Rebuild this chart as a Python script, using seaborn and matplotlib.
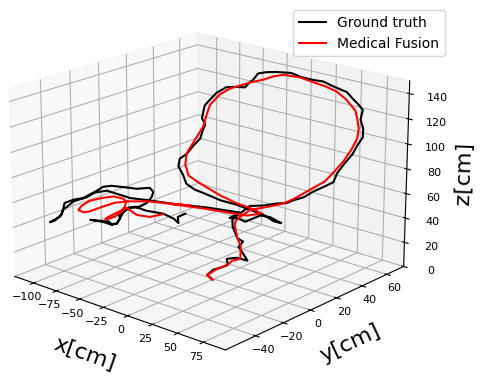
import matplotlib
matplotlib.use("Agg")
import seaborn as sns
from matplotlib import pyplot as plt

# ground truth track
truth_x = [8,-1,2,7,9,5,11,18,9,2,4,-6,-15,-18,-13,-7,6,18,27,32,41,49,59,65,67,73,79,82,86,85,81,83,80,75,70,57,47,39,27,18,3,-7,-14,-19,-21,-26,-35,-44,-53,-60,-64,-67,-62,-65,-66,-73,-79,-87,-87,-82,-77,-68,-57,-39,-20,-7,8,19,28,18,8,-6,-14,-21,-10,-43,-76,-107,-111,-122,-120,-113,-112,-108,-95,-90,-86,-80,-80,-80,-72,-63,-52,-45,-38,-20,-15,-3,-1,-4,-11,-21,-31,-40,-46,-46,-51,-58,-63,-70,-86,-75,-68,-65,-63,-60,-53,-44,-28,-20,-18,-20,-15]
truth_y = [-7,-4,-2,1,4,6,9,12,14,17,19,22,25,27,30,32,33,34,35,36,37,38,39,41,42,43,44,45,46,47,48,48,47,47,46,46,46,45,45,44,44,44,43,43,42,42,41,41,40,40,39,39,38,38,37,37,36,36,35,35,34,34,33,33,32,32,31,31,30,29,29,28,28,27,27,26,26,25,15,5,-5,-15,-25,-35,-45,-55,-54,-53,-52,-51,-50,-49,-48,-47,-46,-45,-44,-43,-42,-41,-40,-39,-38,-37,-36,-35,-34,-33,-32,-31,-30,-28,-27,-25,-23,-22,-20,-18,-17,-15,-13,-12,-10]
truth_z = [5,5,9,11,12,15,16,14,19,19,23,22,28,33,38,44,47,51,53,56,60,66,72,76,83,92,100,107,114,120,126,134,138,141,146,148,150,150,150,152,150,148,146,140,138,133,132,130,124,117,112,101,97,91,85,78,70,64,58,52,46,43,43,41,42,41,41,38,39,42,41,33,34,33,40,37,32,29,34,42,45,47,48,46,48,49,51,57,61,65,69,72,79,84,86,88,88,91,88,83,76,70,67,61,57,54,48,45,46,44,41,41,40,41,47,53,55,53,54,51,47,51,54]

# fused estimate
fusion_x = [9,-3,-2,-2,4,4,8,3,-5,-13,-16,-19,-8,11,22,32,49,59,66,73,79,83,82,79,76,67,59,48,36,24,8,-2,-11,-25,-32,-44,-55,-64,-68,-71,-79,-88,-88,-83,-73,-61,-44,-25,-9,4,-7,-18,-46,-79,-53,-67,-76,-86,-87,-86,-88,-82,-75,-74,-69,-56,-48,-41,-41,-44,-51,-61,-71,-76,-76,-70,-62,-53,-42,-31]
fusion_y = [-7,-3,0,4,7,11,14,18,21,25,28,32,33,34,36,37,38,39,41,42,43,44,46,47,48,48,47,47,47,46,46,46,45,45,44,44,44,43,43,43,42,42,41,40,39,38,36,35,34,33,30,28,25,23,20,12,4,-4,-12,-21,-29,-37,-45,-43,-41,-40,-38,-36,-34,-33,-31,-29,-27,-26,-24,-22,-20,-19,-17,-15]
fusion_z = [5,4,5,6,9,11,12,19,24,30,31,31,40,47,51,57,69,76,85,94,104,113,120,127,132,139,144,146,147,149,148,145,141,136,133,128,121,111,101,92,79,66,57,49,47,45,43,41,41,40,37,37,36,33,39,41,44,45,47,48,47,51,58,61,65,70,72,71,68,63,56,49,44,42,43,47,52,48,48,52]

x_ticks = [-100, -75, -50, -25, 0, 25, 50, 75]
y_ticks = [-40, -20, 0, 20, 40, 60]
z_ticks = [0, 20, 40, 60, 80, 100, 120, 140]

sns.set_palette(["black", "red"])

fig = plt.figure(figsize=(4.9, 3.8), dpi=100)
ax = fig.add_axes([-0.081, 0.014, 1.0, 1.0], projection="3d")
ax.set_box_aspect((4, 4, 2.82), zoom=1.13)
ax.view_init(elev=19, azim=-49)

ax.plot(truth_x, truth_y, truth_z, lw=1.5, label="Ground truth")
ax.plot(fusion_x, fusion_y, fusion_z, lw=1.5, label="Medical Fusion")

ax.set_xlim(-121, 96)
ax.set_ylim(-61, 74)
ax.set_zlim(0, 150)
ax.set_xticks(x_ticks)
ax.set_yticks(y_ticks)
ax.set_zticks(z_ticks)
ax.tick_params(labelsize=8, pad=-3)
ax.tick_params(axis="z", pad=2)
ax.set_xlabel("x[cm]", fontsize=16, labelpad=1)
ax.set_ylabel("y[cm]", fontsize=16, labelpad=-1)
ax.set_zlabel("z[cm]", fontsize=16, labelpad=0)
ax.legend(loc="upper right", bbox_to_anchor=(445/490, 1-10/380), bbox_transform=fig.transFigure,
          borderaxespad=0, fontsize=10)

fig.savefig("out.png", dpi=100)
